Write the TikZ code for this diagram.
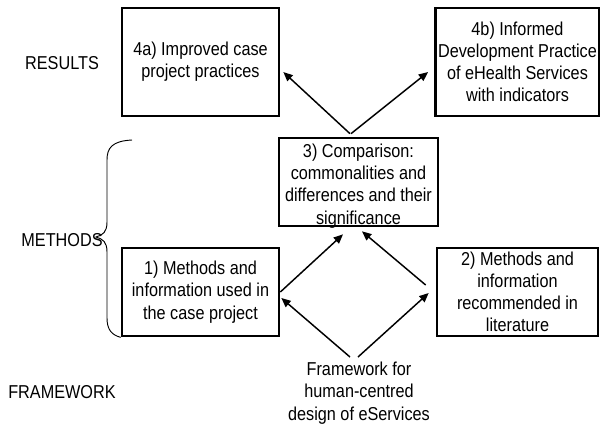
\documentclass[tikz,border=0pt]{standalone}
\usepackage{fontspec}
\setmainfont{Liberation Sans}[FakeStretch=0.87]
\usetikzlibrary{arrows.meta,calc}
\begin{document}
\begin{tikzpicture}[x=0.75pt,y=-0.75pt,
  box/.style={draw,line width=2pt,align=center,inner sep=2pt,
    font=\fontsize{14pt}{16.65pt}\selectfont},
  lbl/.style={align=center,inner sep=0pt,font=\fontsize{14pt}{16.65pt}\selectfont},
  arr/.style={line width=1.1pt,-{Triangle[length=7pt,width=6pt]}}]
\useasboundingbox (0,0) rectangle (600,426);
\node[box,minimum width=157*0.75pt,minimum height=108*0.75pt] (b4a) at (200.5,62) {4a) Improved case\\project practices};
\node[box,minimum width=161*0.75pt,minimum height=108*0.75pt] (b4b) at (517.5,62) {4b) Informed\\Development Practice\\of eHealth Services\\with indicators};
\node[box,minimum width=159*0.75pt,minimum height=88*0.75pt] (b3) at (358.5,182) {};
\node[lbl] (t3) at (358.5,186) {3) Comparison:\\commonalities and\\differences and their\\significance};
\node[box,minimum width=157*0.75pt,minimum height=88*0.75pt] (b1) at (200.5,292) {1) Methods and\\information used in\\the case project};
\node[box,minimum width=161*0.75pt,minimum height=88*0.75pt] (b2) at (517.5,292) {2) Methods and\\information\\recommended in\\literature};
\node[lbl] (fw) at (359,393) {Framework for\\human-centred\\design of eServices};
\node[lbl] (lres) at (62,63) {RESULTS};
\node[lbl] (lmet) at (62,240) {METHODS};
\node[lbl] (lfw) at (62,392) {FRAMEWORK};
\draw[arr] ($(b3.north)+(-8.5,-3)$) -- ($(b4a.east)+(3,10)$);
\draw[arr] ($(b3.north)+(-7.5,-3)$) -- ($(b4b.west)+(-6,10)$);
\draw[arr] (b1.east) -- ($(b3.south)+(-15.5,7)$);
\draw[arr] ($(b2.west)+(-10,-7)$) -- ($(b3.south)+(3.5,4)$);
\draw[arr] ($(fw.center)+(-9,-36)$) -- ($(b1.east)+(1,6)$);
\draw[arr] ($(fw.center)+(-1,-36)$) -- ($(b2.west)+(-7,1)$);
\coordinate (bt) at (132,140);
\draw[line width=0.7pt] (bt) .. controls (112,141) and (107,148) .. (107,160) -- (107,222)
  .. controls (107,232) and (103,235) .. (96,237)
  .. controls (103,239) and (107,242) .. (107,252) -- (107,318)
  .. controls (107,330) and (112,335) .. (b1.south west);
\end{tikzpicture}
\end{document}
